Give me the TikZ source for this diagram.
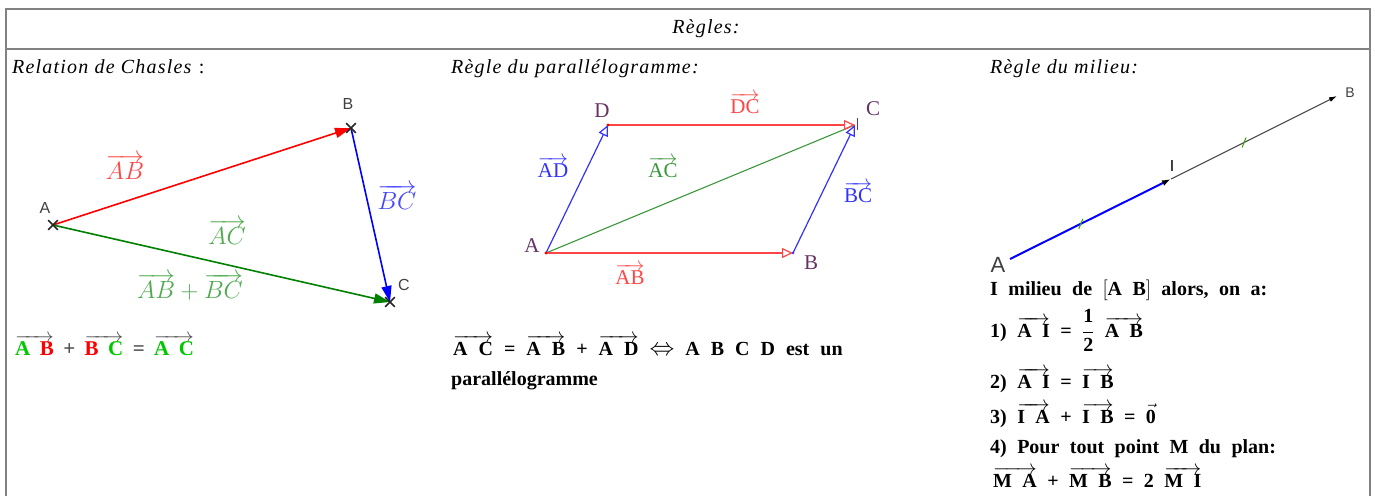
\documentclass[tikz,border=0pt]{standalone}
\usepackage{fontspec}
\setmainfont{Liberation Serif}
\newfontfamily\headfont[LetterSpace=6]{Liberation Serif}
\newfontfamily\labelsans{Liberation Sans}
\usetikzlibrary{arrows.meta, shapes.misc, calc}

\definecolor{framegray}{RGB}{130,130,130}
\definecolor{chred}{RGB}{255,0,0}
\definecolor{chblue}{RGB}{0,0,255}
\definecolor{chgreen}{RGB}{0,128,0}
\definecolor{lblred}{RGB}{255,70,70}
\definecolor{lblblue}{RGB}{70,70,255}
\definecolor{lblgreen}{RGB}{80,170,80}
\definecolor{frmgreen}{RGB}{0,200,0}
\definecolor{ptpurple}{RGB}{100,50,100}
\definecolor{prred}{RGB}{255,70,70}
\definecolor{prblue}{RGB}{50,50,255}
\definecolor{prgreen}{RGB}{60,150,60}

\newcommand{\vecb}[1]{$\overrightarrow{\hbox{#1}}$}
\newcommand{\widesp}{\spaceskip=0.52em plus 0.1em\relax}

\tikzset{
  head/.style={anchor=base west, inner sep=0pt, font={\headfont\fontsize{20}{23}\selectfont\itshape}},
  rule/.style={anchor=base west, inner sep=0pt, font={\fontsize{20}{24}\selectfont\bfseries\widesp}},
  sanslbl/.style={inner sep=0pt, text=black!75, font=\labelsans\fontsize{16}{18}\selectfont},
  mathlbl/.style={inner sep=0pt, font=\fontsize{25}{28}\selectfont},
  serlbl/.style={inner sep=0pt, font=\fontsize{21}{24}\selectfont},
  xpt/.style={cross out, draw=black!85, line width=1.6pt, minimum size=8pt, inner sep=0pt},
  vecA/.style={line width=1.6pt, -{Triangle[length=16pt,width=10pt]}},
  vecB/.style={line width=1.2pt, -{Triangle[open,length=11pt,width=10pt]}}
}

\begin{document}
\begin{tikzpicture}[x=1pt, y=-1pt, >=stealth]
\useasboundingbox (0,0) rectangle (1375,495);

% Frame
\draw[framegray, line width=2.2pt] (6,500) -- (6,9) -- (1370,9) -- (1370,500);
\draw[framegray, line width=2.2pt] (6,49) -- (1370,49);
\node[inner sep=0pt, font={\headfont\fontsize{20}{23}\selectfont\itshape}] (title) at (706,29) {Règles:};

% Relation de Chasles
\node[head] (t1) at (12,74) {Relation de Chasles\/ \upshape:};
\coordinate (A1) at (53,225);
\coordinate (B1) at (351,128);
\coordinate (C1) at (390,302);
\draw[chred, vecA] (A1) -- (B1);
\draw[chblue, vecA] (B1) -- (C1);
\draw[chgreen, vecA] (A1) -- (C1);
\node[xpt] (xA1) at (A1) {};
\node[xpt] (xB1) at (B1) {};
\node[xpt] (xC1) at (C1) {};
\node[sanslbl] (lA1) at (45,208) {A};
\node[sanslbl] (lB1) at (348,104) {B};
\node[sanslbl] (lC1) at (404,285) {C};
\node[mathlbl, text=lblred] (vAB1) at (125,167) {$\overrightarrow{AB}$};
\node[mathlbl, text=lblblue] (vBC1) at (397,197) {$\overrightarrow{BC}$};
\node[mathlbl, text=lblgreen] (vAC1) at (227,232) {$\overrightarrow{AC}$};
\node[mathlbl, text=lblgreen] (vsum1) at (190,287) {$\overrightarrow{AB}+\overrightarrow{BC}$};
\node[rule, text=black!70, font={\fontsize{21}{24}\selectfont\bfseries\spaceskip=0.45em\relax}] (f1) at (15,355) {%
  \vecb{\color{frmgreen}A \color{chred}B} + \vecb{\color{chred}B \color{frmgreen}C} = \vecb{\color{frmgreen}A C}};

% Regle du parallelogramme
\node[head] (t2) at (451,74) {Règle du parallélogramme:};
\coordinate (A2) at (546,253);
\coordinate (B2) at (793,253);
\coordinate (C2) at (855,125);
\coordinate (D2) at (608,125);
\draw[prgreen, line width=1.1pt] (A2) -- (C2);
\draw[prblue, vecB] (A2) -- (D2);
\draw[prblue, vecB] (B2) -- (C2);
\draw[prred, vecB] (A2) -- (B2);
\draw[prred, vecB] (D2) -- (C2);
\fill[red] (A2) circle (1.6pt);
\fill[red] (D2) circle (1.6pt);
\fill[prblue] (B2) circle (1.4pt);
\draw[prblue, line width=1pt] ($(C2)+(2,-7)$) -- ($(C2)+(2,5)$);
\node[serlbl, text=ptpurple] (lA2) at (532,246) {A};
\node[serlbl, text=ptpurple] (lB2) at (811,263) {B};
\node[serlbl, text=ptpurple] (lC2) at (873,109) {C};
\node[serlbl, text=ptpurple] (lD2) at (602,111) {D};
\node[serlbl, text=prred] (vDC2) at (745,103) {\vecb{DC}};
\node[serlbl, text=prblue] (vAD2) at (553,167) {\vecb{AD}};
\node[serlbl, text=prgreen] (vAC2) at (663,167) {\vecb{AC}};
\node[serlbl, text=prblue] (vBC2) at (858,192) {\vecb{BC}};
\node[serlbl, text=prred] (vAB2) at (630,274) {\vecb{AB}};
\node[rule, font={\fontsize{20}{24}\selectfont\bfseries\spaceskip=0.55em\relax}] (f2) at (453,355)
  {\vecb{A C} = \vecb{A B} + \vecb{A D} {\fontsize{24}{24}\selectfont$\Leftrightarrow$} A B C D est un};
\node[rule] (f2b) at (451,385) {parallélogramme};

% Regle du milieu
\node[head] (t3) at (990,74) {Règle du milieu:};
\coordinate (A3) at (1010,259);
\coordinate (I3) at (1171,179);
\coordinate (B3) at (1337,96);
\draw[blue, line width=2pt, -{Latex[length=9pt,width=6pt,color=black]}] (A3) -- (I3);
\draw[black!70, line width=1.1pt, -{Latex[length=8pt,width=5pt,color=black]}] (I3) -- (B3);
\draw[chgreen!70!lime, line width=1pt] ($(A3)!0.44!(I3)+(-2,5)$) -- ++(4,-10);
\draw[chgreen!70!lime, line width=1pt] ($(I3)!0.44!(B3)+(-2,5)$) -- ++(4,-10);
\node[sanslbl, font=\labelsans\fontsize{22}{24}\selectfont] (lA3) at (998,265) {A};
\node[sanslbl, text=black] (lI3) at (1172,166) {I};
\node[sanslbl, font=\labelsans\fontsize{14}{16}\selectfont] (lB3) at (1350,93) {B};
\node[rule] (m0) at (990,295) {I milieu de $\big[$A B$\big]$ alors, on a:};
\node[rule] (m1) at (990,337) {1) \vecb{A I} = $\displaystyle\frac{\hbox{1}}{\hbox{2}}$ \vecb{A B}};
\node[rule] (m2) at (990,388) {2) \vecb{A I} = \vecb{I B}};
\node[rule] (m3) at (990,423) {3) \vecb{I A} + \vecb{I B} = $\vec{\hbox{0}}$};
\node[rule] (m4) at (990,453) {4) Pour tout point M du plan:};
\node[rule] (m5) at (993,487) {\vecb{M A} + \vecb{M B} = 2 \vecb{M I}};
\end{tikzpicture}
\end{document}
